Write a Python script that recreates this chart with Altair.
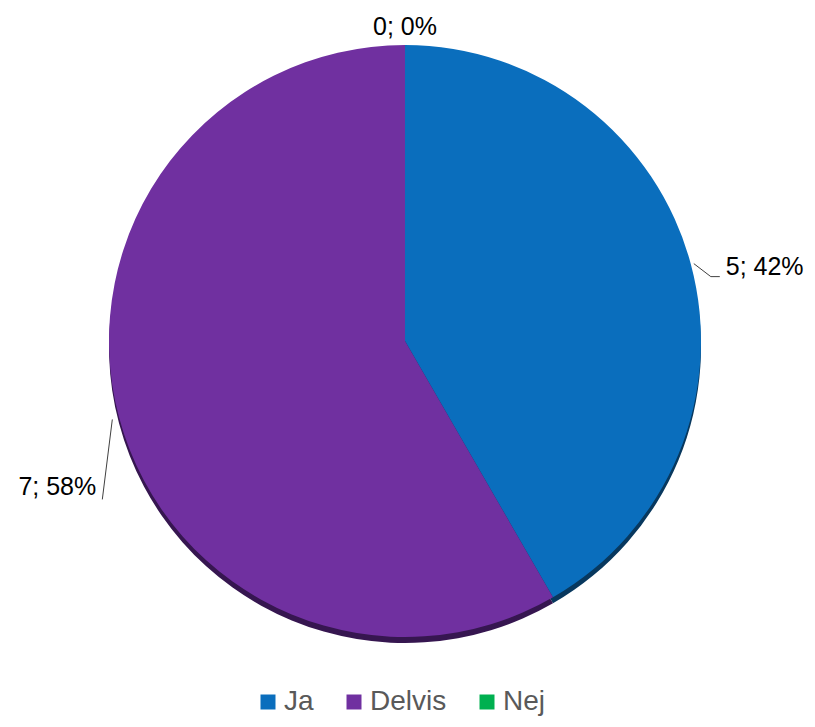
import math
import altair as alt
import pandas as pd

categories = ["Ja", "Delvis", "Nej"]
counts = [5, 7, 0]
percents = [42, 58, 0]
colors = ["#0A6EBD", "#7030A0", "#00B050"]
shadow_colors = ["#08385E", "#361650", "#005A2A"]

W, H = 799, 711
CX, CY = 397, 333
R = 296

df = pd.DataFrame({
    "cat": categories,
    "value": counts,
    "pct": percents,
    "idx": list(range(len(categories))),
})
df["label"] = [f"{c}; {p}%" for c, p in zip(counts, percents)]

total = sum(counts)
mids = []
cum = 0
for v in counts:
    mids.append((cum + v / 2) / total * 360)
    cum += v


def pt(angle_deg, r):
    a = math.radians(angle_deg)
    return CX + r * math.sin(a), CY - r * math.cos(a)


lead_rows = []
x0, y0 = pt(mids[0], R + 3)
lead_rows += [
    {"g": "Ja", "o": 0, "x": x0, "y": y0},
    {"g": "Ja", "o": 1, "x": x0 + 17, "y": y0 + 13},
    {"g": "Ja", "o": 2, "x": x0 + 26, "y": y0 + 13},
]
x1, y1 = pt(mids[1], R + 7)
lead_rows += [
    {"g": "Delvis", "o": 0, "x": x1, "y": y1},
    {"g": "Delvis", "o": 1, "x": x1 - 10, "y": y1 + 80},
]
lead = pd.DataFrame(lead_rows)

color_scale = alt.Scale(domain=categories, range=colors)
shadow_scale = alt.Scale(domain=categories, range=shadow_colors)

base = alt.Chart(df)

shadow = base.mark_arc(radius=R, strokeWidth=0).encode(
    theta=alt.Theta("value:Q", stack=True),
    order=alt.Order("idx:Q"),
    color=alt.Color("cat:N", scale=shadow_scale, legend=None),
    x=alt.value(CX),
    y=alt.value(CY + 6),
)

pie = base.mark_arc(radius=R, strokeWidth=0).encode(
    theta=alt.Theta("value:Q", stack=True),
    order=alt.Order("idx:Q"),
    color=alt.Color(
        "cat:N",
        scale=color_scale,
        sort=categories,
        legend=alt.Legend(
            title=None,
            orient="none",
            direction="horizontal",
            legendX=246,
            legendY=680,
            symbolType="square",
            symbolSize=225,
            symbolStrokeWidth=0,
            labelFont="Liberation Sans",
            labelFontSize=28,
            labelColor="#595959",
            labelOffset=2,
            columnPadding=26,
            padding=0,
        ),
    ),
    x=alt.value(CX),
    y=alt.value(CY),
)


def label_layer(cat, radius, align, dx, dy):
    return base.mark_text(
        radius=radius,
        align=align,
        baseline="middle",
        dx=dx,
        dy=dy,
        font="Liberation Sans",
        fontSize=25,
    ).encode(
        theta=alt.Theta("value:Q", stack=True),
        order=alt.Order("idx:Q"),
        text="label:N",
        opacity=alt.condition(alt.datum.cat == cat, alt.value(1), alt.value(0)),
        color=alt.value("#000000"),
        x=alt.value(CX),
        y=alt.value(CY),
    )


lab_ja = label_layer("Ja", 330, "left", 2, 11)
lab_del = label_layer("Delvis", 330, "right", 10, 61)
lab_nej = label_layer("Nej", 314, "center", 0, 0)

leaders = alt.Chart(lead).mark_line(color="#404040", strokeWidth=1).encode(
    x=alt.X("x:Q", scale=None, axis=None),
    y=alt.Y("y:Q", scale=None, axis=None),
    detail="g:N",
    order="o:Q",
)

chart = alt.layer(shadow, pie, leaders, lab_ja, lab_del, lab_nej).resolve_scale(
    color="independent"
).properties(
    width=W,
    height=H,
    padding=0,
    autosize=alt.AutoSizeParams(type="none"),
).configure(
    background="white",
    view=alt.ViewConfig(stroke="transparent", strokeWidth=0),
)

chart.save("out.html", embed_options={"renderer": "svg", "actions": False})
